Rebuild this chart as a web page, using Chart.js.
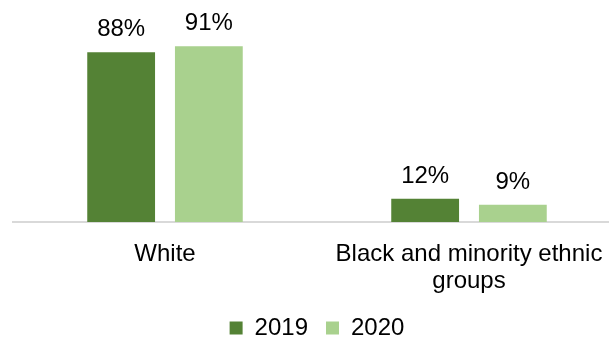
<!DOCTYPE html>
<html>
<head>
<meta charset="utf-8">
<script src="https://cdn.jsdelivr.net/npm/chart.js@4"></script>
<style>
  html, body { margin: 0; padding: 0; background: #fff; overflow: hidden; }
  #wrap { width: 621px; height: 350px; }
</style>
</head>
<body>
<div id="wrap"><canvas id="chart"></canvas></div>
<script>
// categories and values
const categories = [['White'], ['Black and minority ethnic', 'groups']];
const seriesNames = ['2019', '2020'];
const values2019 = [88, 12];
const values2020 = [91, 9];
const colors = ['#548235', '#A9D18E'];

const fontFamily = '"Liberation Sans", Arial, sans-serif';

// draws the "88%" style labels above each bar
const barLabels = {
    id: 'barLabels',
    afterDatasetsDraw(chart) {
        const ctx = chart.ctx;
        ctx.save();
        ctx.font = '24px ' + fontFamily;
        ctx.fillStyle = '#000';
        ctx.textAlign = 'center';
        ctx.textBaseline = 'alphabetic';
        chart.data.datasets.forEach((ds, i) => {
            chart.getDatasetMeta(i).data.forEach((bar, j) => {
                ctx.fillText(ds.data[j] + '%', bar.x, bar.y - 16);
            });
        });
        ctx.restore();
    }
};

new Chart(document.getElementById('chart'), {
    type: 'bar',
    data: {
        labels: categories,
        datasets: [
            { label: seriesNames[0], data: values2019, backgroundColor: colors[0] },
            { label: seriesNames[1], data: values2020, backgroundColor: colors[1] }
        ]
    },
    options: {
        responsive: true,
        maintainAspectRatio: false,
        animation: false,
        categoryPercentage: 0.577,
        barPercentage: 0.773,
        layout: { padding: { left: 13, right: 0, top: 29, bottom: 0 } },
        scales: {
            y: { display: false, min: 0, max: 100 },
            x: {
                grid: { display: false, drawTicks: true, tickLength: 15 },
                border: { display: true, color: '#d9d9d9', width: 2 },
                ticks: {
                    color: '#000',
                    padding: 3.5,
                    font: { family: fontFamily, size: 24, lineHeight: 1.125 }
                }
            }
        },
        plugins: {
            legend: {
                position: 'bottom',
                labels: {
                    color: '#000',
                    boxWidth: 13,
                    boxHeight: 13,
                    padding: 18,
                    font: { family: fontFamily, size: 24 }
                }
            },
            tooltip: { enabled: false }
        }
    },
    plugins: [barLabels]
});
</script>
</body>
</html>
